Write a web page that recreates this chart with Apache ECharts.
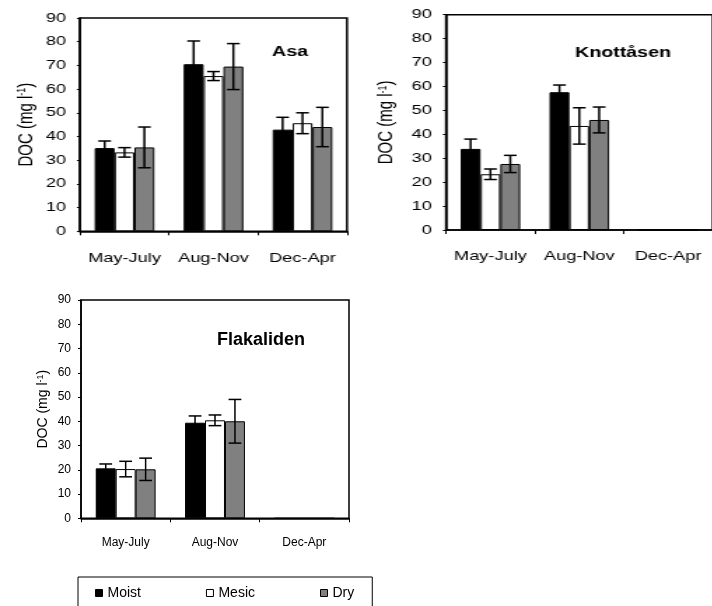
<!DOCTYPE html>
<html>
<head>
<meta charset="utf-8">
<title>DOC by season and site</title>
<script src="https://cdn.jsdelivr.net/npm/echarts@6/dist/echarts.min.js"></script>
<style>
  html, body { margin: 0; padding: 0; background: #fff; }
  body { width: 712px; height: 606px; position: relative; overflow: hidden; }
  /* the upper pair of panels is drawn horizontally widened */
  #top { position: absolute; left: 0; top: 0; width: 509px; height: 285px;
         transform: scaleX(1.4); transform-origin: 0 0; }
  #bottom { position: absolute; left: 0; top: 285px; width: 712px; height: 321px; }
</style>
</head>
<body>
<div id="top"></div>
<div id="bottom"></div>
<script>
// Seasons and moisture classes
const categories = ['May-July', 'Aug-Nov', 'Dec-Apr'];
const groups = ['Moist', 'Mesic', 'Dry'];

// DOC (mg l-1), mean and error per season
const asaMoist = [35.1, 70.5, 42.9];
const asaMesic = [33.3, 65.5, 45.6];
const asaDry = [35.4, 69.5, 44.0];
const asaMoistErr = [3.0, 9.8, 5.2];
const asaMesicErr = [2.0, 1.9, 4.4];
const asaDryErr = [8.6, 9.7, 8.3];

const knoMoist = [33.9, 57.6, 0];
const knoMesic = [23.3, 43.5, 0];
const knoDry = [27.6, 46.0, 0];
const knoMoistErr = [4.1, 3.0, 0];
const knoMesicErr = [2.2, 7.6, 0];
const knoDryErr = [3.6, 5.4, 0];

const flaMoist = [20.6, 39.4, 0];
const flaMesic = [20.3, 40.4, 0];
const flaDry = [20.2, 40.0, 0];
const flaMoistErr = [1.8, 2.8, 0];
const flaMesicErr = [3.2, 2.2, 0];
const flaDryErr = [4.6, 9.0, 0];

const yMin = 0, yMax = 90, yStep = 10;

const FONT = "'Liberation Sans', Arial, sans-serif";
const FILLS = ['#000000', '#ffffff', '#808080'];
const CAT_GAP = 0.33;

function errorSeries(gridIdx, k, means, errs) {
  return {
    type: 'custom',
    xAxisIndex: gridIdx, yAxisIndex: gridIdx,
    z: 5, silent: true,
    data: means.map((m, i) => [i, m, errs[i]]),
    renderItem: function (params, api) {
      const cat = api.value(0), val = api.value(1), err = api.value(2);
      if (!err) return null;
      const band = api.size([1, 0])[0];
      const barW = band * (1 - CAT_GAP) / 3;
      const x = api.coord([cat, val])[0] + (k - 1) * barW;
      const yTop = api.coord([cat, val + err])[1];
      const yBot = api.coord([cat, val - err])[1];
      const half = barW * 0.32;
      const st = { stroke: '#000', lineWidth: 1.5, fill: null };
      return {
        type: 'group',
        children: [
          { type: 'line', shape: { x1: x, y1: yTop, x2: x, y2: yBot }, style: st },
          { type: 'line', shape: { x1: x - half, y1: yTop, x2: x + half, y2: yTop }, style: st },
          { type: 'line', shape: { x1: x - half, y1: yBot, x2: x + half, y2: yBot }, style: st }
        ]
      };
    }
  };
}

function panelSeries(gridIdx, meansList, errsList) {
  const out = [];
  meansList.forEach((means, k) => {
    out.push({
      type: 'bar', name: groups[k],
      xAxisIndex: gridIdx, yAxisIndex: gridIdx,
      data: means,
      barGap: '0%', barCategoryGap: (CAT_GAP * 100) + '%',
      itemStyle: { color: FILLS[k], borderColor: '#000', borderWidth: 1 },
      emphasis: { disabled: true }
    });
  });
  meansList.forEach((means, k) => out.push(errorSeries(gridIdx, k, means, errsList[k])));
  return out;
}

function xAxisFor(gridIdx, opts) {
  return {
    type: 'category', gridIndex: gridIdx, data: categories,
    axisLine: { lineStyle: { color: '#000', width: 1.5 } },
    axisTick: { show: true, length: 4, alignWithLabel: false, lineStyle: { color: '#000', width: 1 } },
    axisLabel: { color: '#000', fontFamily: FONT, fontSize: opts.fontSize, margin: opts.margin,
                 interval: 0, hideOverlap: false },
    splitLine: { show: false }
  };
}

function yAxisFor(gridIdx, opts) {
  return {
    type: 'value', gridIndex: gridIdx, min: yMin, max: yMax, interval: yStep,
    name: 'DOC (mg l{sup|-1})',
    nameLocation: 'middle', nameRotate: 90, nameGap: opts.nameGap,
    nameTextStyle: {
      color: '#000', fontFamily: FONT, fontSize: opts.nameSize,
      rich: { sup: { fontSize: 9, verticalAlign: 'top', color: '#000', fontFamily: FONT } }
    },
    axisLine: { show: true, lineStyle: { color: '#000', width: 1.5 } },
    axisTick: { show: true, length: opts.tickLen, lineStyle: { color: '#000', width: 1 } },
    axisLabel: { color: '#000', fontFamily: FONT, fontSize: opts.labelSize, margin: opts.labelMargin },
    splitLine: { show: false }
  };
}

function gridFor(left, top, width, height) {
  return { left: left, top: top, width: width, height: height, show: true,
           borderColor: '#000', borderWidth: 1.5, backgroundColor: 'transparent' };
}

// Upper row: Asa and Knottåsen (coordinates in the unwidened frame)
const SX = 1.4;
const topChart = echarts.init(document.getElementById('top'), null, { renderer: 'canvas' });
topChart.setOption({
  animation: false,
  backgroundColor: '#fff',
  grid: [
    gridFor(80 / SX, 18, 267 / SX, 213.3),
    gridFor(446 / SX, 14.7, 267 / SX, 215.3)
  ],
  xAxis: [
    xAxisFor(0, { fontSize: 13, margin: 21 }),
    xAxisFor(1, { fontSize: 13, margin: 20 })
  ],
  yAxis: [
    yAxisFor(0, { nameGap: 31, nameSize: 15, tickLen: 2.2, labelSize: 13, labelMargin: 10 }),
    yAxisFor(1, { nameGap: 35, nameSize: 15, tickLen: 2.2, labelSize: 13, labelMargin: 10 })
  ],
  graphic: [
    { type: 'text', x: 290 / SX, y: 52, silent: true,
      style: { text: 'Asa', fill: '#000', font: 'bold 14px ' + FONT, textAlign: 'center', textVerticalAlign: 'middle' } },
    { type: 'text', x: 623 / SX, y: 53, silent: true,
      style: { text: 'Knottåsen', fill: '#000', font: 'bold 14px ' + FONT, textAlign: 'center', textVerticalAlign: 'middle' } }
  ],
  series: [
    ...panelSeries(0, [asaMoist, asaMesic, asaDry], [asaMoistErr, asaMesicErr, asaDryErr]),
    ...panelSeries(1, [knoMoist, knoMesic, knoDry], [knoMoistErr, knoMesicErr, knoDryErr])
  ]
});

// Lower row: Flakaliden and the shared legend
const bottomChart = echarts.init(document.getElementById('bottom'), null, { renderer: 'canvas' });
bottomChart.setOption({
  animation: false,
  backgroundColor: '#fff',
  grid: [gridFor(81, 15, 268, 218.3)],
  xAxis: [xAxisFor(0, { fontSize: 12, margin: 18 })],
  yAxis: [yAxisFor(0, { nameGap: 31, nameSize: 14, tickLen: 3, labelSize: 12, labelMargin: 10 })],
  graphic: [
    { type: 'text', x: 261, y: 55, silent: true,
      style: { text: 'Flakaliden', fill: '#000', font: 'bold 18px ' + FONT, textAlign: 'center', textVerticalAlign: 'middle' } }
  ],
  legend: {
    data: groups,
    left: 78, top: 292,
    orient: 'horizontal',
    selectedMode: false,
    icon: 'rect', itemWidth: 7, itemHeight: 7, itemGap: 65,
    itemStyle: { borderColor: '#000', borderWidth: 1 },
    textStyle: { color: '#000', fontFamily: FONT, fontSize: 14 },
    padding: [9, 18, 20, 17],
    borderColor: '#000', borderWidth: 1, borderRadius: 0
  },
  series: panelSeries(0, [flaMoist, flaMesic, flaDry], [flaMoistErr, flaMesicErr, flaDryErr])
});
</script>
</body>
</html>
